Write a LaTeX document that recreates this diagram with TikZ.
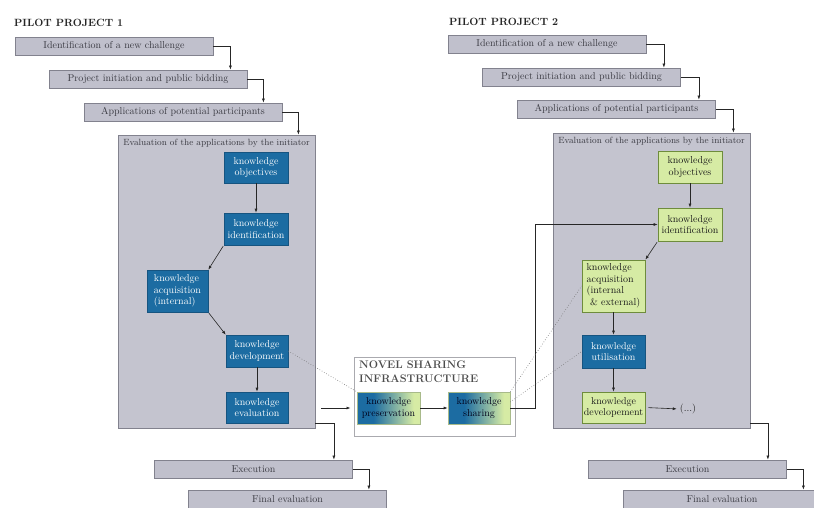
\documentclass[tikz,border=0pt]{standalone}
\usetikzlibrary{arrows.meta,calc}
\definecolor{gfill}{RGB}{192,192,204}
\definecolor{gline}{RGB}{130,130,142}
\definecolor{efill}{RGB}{196,196,207}
\definecolor{kblue}{RGB}{28,108,162}
\definecolor{kbline}{RGB}{22,84,128}
\definecolor{kgreen}{RGB}{214,235,164}
\definecolor{kgline}{RGB}{110,140,60}
\definecolor{gtext}{RGB}{58,58,66}
\definecolor{nline}{RGB}{170,170,175}
\pgfdeclarehorizontalshading{bluegreen}{100bp}{color(0bp)=(kblue); color(38bp)=(kblue); color(70bp)=(kgreen); color(100bp)=(kgreen)}
\tikzset{
  graybox/.style={draw=gline, line width=0.8pt, fill=gfill, minimum width=198pt, minimum height=18pt, inner sep=0pt, text=gtext, font=\fontsize{10}{11}\selectfont},
  evalbox/.style={draw=gline, line width=0.8pt, fill=efill, inner sep=0pt},
  bluenode/.style={draw=kbline, line width=0.6pt, fill=kblue, text=white, inner sep=0pt, align=center, font=\fontsize{10}{11.5}\selectfont},
  greennode/.style={draw=kgline, line width=0.8pt, fill=kgreen, text=black!90, inner sep=0pt, align=center, font=\fontsize{10}{11.5}\selectfont},
  gradnode/.style={draw=kgline!60, line width=0.6pt, shading=bluegreen, text=black!90!blue, inner sep=0pt, align=center, font=\fontsize{10}{11.5}\selectfont},
  heading/.style={font=\bfseries\fontsize{10.5}{12}\selectfont, text=black!85, inner sep=0pt},
  evaltitle/.style={font=\fontsize{9}{11}\selectfont, text=gtext, inner sep=0pt},
  arr/.style={draw=black!85, line width=0.6pt, -{Latex[length=4pt,width=3pt]}},
  dotline/.style={draw=black!55, line width=0.6pt, dotted},
}
\begin{document}
\begin{tikzpicture}[x=1pt,y=-1pt]
\clip (0,0) rectangle (814,507);
\fill[white] (0,0) rectangle (814,507);

% ---------- Pilot project 1 ----------
\node[heading, anchor=west] (t1) at (14,23) {PILOT PROJECT 1};
\node[graybox] (a1) at (114,46) {Identification of a new challenge};
\node[graybox] (a2) at (148,79) {Project initiation and public bidding};
\node[graybox] (a3) at (183,112) {Applications of potential participants};
\node[evalbox, minimum width=197pt, minimum height=293pt] (e1) at (216.5,281.5) {};
\node[evaltitle, anchor=north] (e1t) at ([yshift=-4pt]e1.north) {Evaluation of the applications by the initiator};
\node[bluenode, minimum width=64pt, minimum height=31pt] (o1) at (256,167.5) {knowledge\\objectives};
\node[bluenode, minimum width=64pt, minimum height=32pt] (i1) at (256,229) {knowledge\\identification};
\node[bluenode, minimum width=61pt, minimum height=42pt, align=left] (q1) at (177.5,291) {knowledge\\acquisition\\(internal)};
\node[bluenode, minimum width=62pt, minimum height=32pt] (d1) at (257,351) {knowledge\\development};
\node[bluenode, minimum width=62pt, minimum height=31pt] (v1) at (257,407.5) {knowledge\\evaluation};
\node[graybox] (x1) at (253.5,469) {Execution};
\node[graybox] (f1) at (287.5,499) {Final evaluation};

\draw[arr] (a1.east) -| ([xshift=-17pt]a2.north east);
\draw[arr] (a2.east) -| ([xshift=-19pt]a3.north east);
\draw[arr] (a3.east) -| ([xshift=-17pt]e1.north east);
\draw[arr] (o1) -- (i1);
\draw[arr, shorten <=1pt] (i1.south west) -- (q1.north east);
\draw[arr, shorten <=1pt] (q1.south east) -- (d1.north west);
\draw[arr] (d1) -- (v1);
\draw[arr] ([yshift=5pt]e1.south east) -| ([xshift=-19pt]x1.north east);
\draw[arr] (x1.east) -| ([xshift=-18pt]f1.north east);

% ---------- Novel sharing infrastructure ----------
\node[draw=nline, line width=1pt, fill=white, minimum width=161pt, minimum height=79pt, inner sep=0pt] (nb) at (434.5,396.5) {};
\node[heading, anchor=north west, align=left, text=black!70, font=\bfseries\fontsize{11}{14}\selectfont] (nt) at (359,361) {NOVEL SHARING\\INFRASTRUCTURE};
\node[gradnode, minimum width=63pt, minimum height=32pt] (pr) at (388.5,408) {knowledge\\preservation};
\node[gradnode, minimum width=62pt, minimum height=32pt] (sh) at (479,408) {knowledge\\sharing};
\draw[arr] (pr) -- (sh);
\draw[arr, shorten <=6pt, shorten >=3pt] (e1.east |- pr.west) -- (nb.west |- pr.west);

% ---------- Pilot project 2 ----------
\node[heading, anchor=west] (t2) at (449,22) {PILOT PROJECT 2};
\node[graybox] (b1) at (547,44) {Identification of a new challenge};
\node[graybox] (b2) at (581.5,77) {Project initiation and public bidding};
\node[graybox] (b3) at (616.5,109) {Applications of potential participants};
\node[evalbox, minimum width=197pt, minimum height=295pt] (e2) at (651.5,280.5) {};
\node[evaltitle, anchor=north] (e2t) at ([yshift=-4pt]e2.north) {Evaluation of the applications by the initiator};
\node[greennode, minimum width=64pt, minimum height=32pt] (o2) at (690,167) {knowledge\\objectives};
\node[greennode, minimum width=64pt, minimum height=33pt] (i2) at (690,224.5) {knowledge\\identification};
\node[greennode, minimum width=63pt, minimum height=52pt, align=left] (q2) at (613.5,286) {knowledge\\acquisition\\(internal\\\ \& external)};
\node[bluenode, minimum width=63pt, minimum height=33pt] (u2) at (613.5,351.5) {knowledge\\utilisation};
\node[greennode, minimum width=63pt, minimum height=31pt] (d2) at (613.5,407.5) {knowledge\\developement};
\node[inner sep=0pt, text=black!85, font=\fontsize{10}{11}\selectfont] (dots) at (688,409) {(...)};
\node[graybox] (x2) at (687.5,469) {Execution};
\node[graybox] (f2) at (722,499) {Final evaluation};

\draw[arr] (b1.east) -| ([xshift=-17pt]b2.north east);
\draw[arr] (b2.east) -| ([xshift=-17pt]b3.north east);
\draw[arr] (b3.east) -| ([xshift=-17pt]e2.north east);
\draw[arr] (o2) -- (i2);
\draw[arr, shorten <=1pt] (i2.south west) -- (q2.north east);
\draw[arr] (q2) -- (u2);
\draw[arr] (u2) -- (d2);
\draw[arr, shorten <=3pt, shorten >=3pt] (d2.east) -- (dots.west);
\draw[arr] ([yshift=5pt]e2.south east) -| ([xshift=-19pt]x2.north east);
\draw[arr] (x2.east) -| ([xshift=-18pt]f2.north east);

% ---------- links between projects ----------
\coordinate (k1) at (535,408);
\draw[arr] (sh.east) -- (k1) |- (i2.west);
\draw[dotline] (d1.east) -- (pr.north west);
\draw[dotline] (sh.north east) -- (q2.west);
\draw[dotline] ([yshift=6pt]sh.east) -- (u2.west);
\end{tikzpicture}
\end{document}
